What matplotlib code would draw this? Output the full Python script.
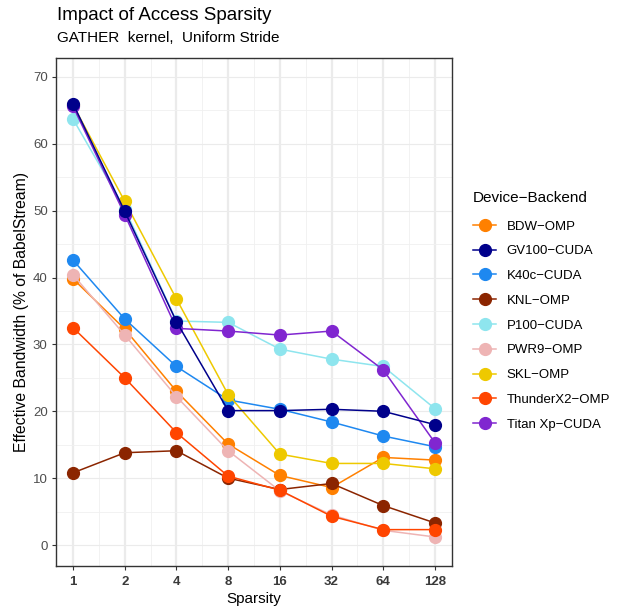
import numpy as np
import matplotlib
matplotlib.use("Agg")
import matplotlib.pyplot as plt

plt.rcParams['font.family'] = ['Liberation Sans', 'DejaVu Sans']

# sparsity levels (x axis)
sparsity = [1, 2, 4, 8, 16, 32, 64, 128]

# effective bandwidth, % of BabelStream
bdw_omp = [39.8, 32.3, 23.0, 15.1, 10.4, 8.6, 13.1, 12.7]
gv100_cuda = [66.0, 49.9, 33.4, 20.1, 20.1, 20.3, 20.0, 18.0]
k40c_cuda = [42.6, 33.8, 26.7, 21.7, 20.3, 18.4, 16.3, 14.7]
knl_omp = [10.8, 13.8, 14.1, 10.0, 8.3, 9.2, 5.9, 3.3]
p100_cuda = [63.7, 50.3, 33.5, 33.3, 29.3, 27.8, 26.7, 20.4]
pwr9_omp = [40.4, 31.4, 22.2, 14.1, 8.1, 4.5, 2.2, 1.2]
skl_omp = [65.8, 51.4, 36.8, 22.5, 13.6, 12.2, 12.2, 11.4]
thunderx2_omp = [32.5, 25.0, 16.8, 10.3, 8.2, 4.3, 2.3, 2.3]
titanxp_cuda = [65.6, 49.4, 32.4, 32.0, 31.4, 32.0, 26.2, 15.3]

labels = ["BDW\u2212OMP", "GV100\u2212CUDA", "K40c\u2212CUDA", "KNL\u2212OMP",
          "P100\u2212CUDA", "PWR9\u2212OMP", "SKL\u2212OMP",
          "ThunderX2\u2212OMP", "Titan Xp\u2212CUDA"]
series = [bdw_omp, gv100_cuda, k40c_cuda, knl_omp, p100_cuda, pwr9_omp,
          skl_omp, thunderx2_omp, titanxp_cuda]
colors = ["#FF8000", "#00008B", "#1E88F0", "#8B2500", "#8EE5EE",
          "#EEB4B4", "#EEC900", "#FF4500", "#8026D0"]

fig = plt.figure(figsize=(6.21, 6.10), dpi=100)
ax = fig.add_axes([56 / 621, 1 - 566 / 610, 396 / 621, 508 / 610])

for i, (vals, lab, col) in enumerate(zip(series, labels, colors)):
    z = 5 if lab.startswith("GV100") else 3 + i * 0.1
    ax.plot(sparsity, vals, color=col, lw=1.1, marker='o', ms=8.5,
            label=lab, zorder=z)

ax.set_xscale('log', base=2)
ax.set_xlim(2 ** -0.33, 2 ** 7.33)
ax.set_ylim(-3.14, 72.84)
ax.set_xticks(sparsity)
ax.set_xticklabels([str(s) for s in sparsity], fontweight='bold')
ax.set_xticks([2 ** (k + 0.5) for k in range(7)], minor=True)
ax.set_yticks(np.arange(0, 71, 10))
ax.set_yticks(np.arange(5, 71, 10), minor=True)
ax.xaxis.set_minor_formatter(matplotlib.ticker.NullFormatter())

ax.grid(True, axis='x', which='major', color='#EBEBEB', lw=1.6, zorder=0)
ax.grid(True, axis='x', which='minor', color='#F0F0F0', lw=0.6, zorder=0)
ax.grid(True, axis='y', which='major', color='#EBEBEB', lw=0.8, zorder=0)
ax.grid(True, axis='y', which='minor', color='#F0F0F0', lw=0.6, zorder=0)
ax.set_axisbelow(True)

for sp in ax.spines.values():
    sp.set_color('#333333')
    sp.set_linewidth(1.0)
ax.tick_params(which='major', length=3, color='#333333', labelsize=9.5,
               labelcolor='#4D4D4D', pad=3)
ax.tick_params(which='minor', length=0)
ax.tick_params(axis='x', labelcolor='#3A3A3A', pad=4)

ax.set_xlabel("Sparsity", fontsize=11, labelpad=3)
ax.set_ylabel("Effective Bandwidth (% of BabelStream)", fontsize=11.3, labelpad=3)

fig.text(57 / 621, 1 - 15 / 610, "Impact of Access Sparsity", fontsize=13.5,
         va='center', ha='left')
fig.text(57 / 621, 1 - 38 / 610, "GATHER  kernel,  Uniform Stride", fontsize=11,
         va='center', ha='left')

leg = ax.legend(loc='upper left', bbox_to_anchor=(473 / 621, 1 - 191 / 610),
                bbox_transform=fig.transFigure, frameon=False, borderpad=0,
                borderaxespad=0, title="Device\u2212Backend", title_fontsize=11,
                fontsize=9.5, handlelength=1.75, handletextpad=0.8,
                labelspacing=0.95, alignment='left')
leg._legend_box.sep = 11

fig.savefig("out.png", dpi=100)
